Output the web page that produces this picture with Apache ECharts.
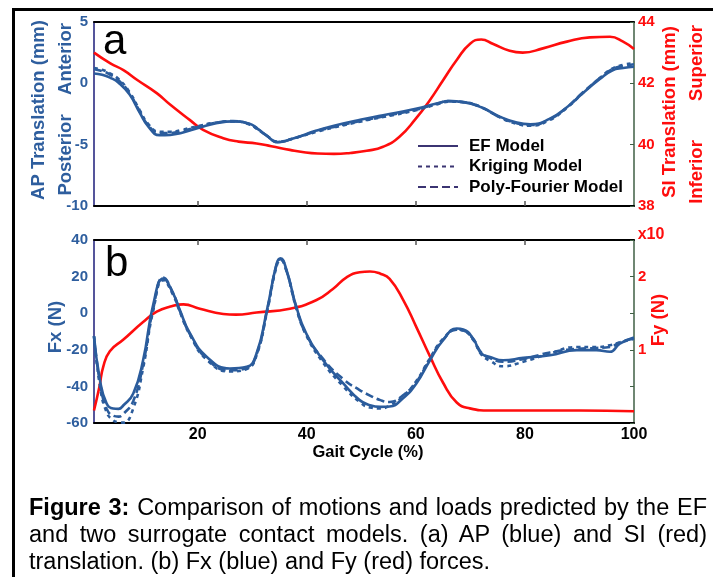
<!DOCTYPE html>
<html>
<head>
<meta charset="utf-8">
<script src="https://cdn.jsdelivr.net/npm/echarts@6/dist/echarts.min.js"></script>
<style>
  html, body { margin: 0; padding: 0; background: #fff; overflow: hidden; }
  #wrap { position: relative; width: 713px; height: 577px; }
  #chart { position: absolute; left: 0; top: 0; width: 713px; height: 577px; }
  #caption { position: absolute; left: 29px; top: 494px; width: 678px;
    font-family: 'Liberation Sans', Arial, Helvetica, sans-serif; font-size: 23.5px;
    line-height: 27px; color: #000; }
  #caption div { white-space: nowrap; }
  #caption .j { text-align: justify; text-align-last: justify; }
</style>
</head>
<body>
<div id="wrap">
  <div id="chart"></div>
  <div id="caption">
    <div class="j"><b>Figure 3:</b> Comparison of motions and loads predicted by the EF</div>
    <div class="j">and two surrogate contact models. (a) AP (blue) and SI (red)</div>
    <div>translation. (b) Fx (blue) and Fy (red) forces.</div>
  </div>
</div>
<script>
// ---------- data ----------
// Panel a: AP translation (mm), blue, left axis
const apX       = [1, 2.5, 4, 5.5, 7.5, 9.4, 11, 13, 15, 17, 20.4, 23.4, 26.5, 29.5, 31, 32.6, 34.7, 37.5, 41.8, 45, 50, 54, 60, 64, 66, 69, 72, 75.5, 78.5, 81, 84.5, 87.7, 90.6, 93.8, 96, 98, 100];
const apEF      = [0.8, 0.7, 0.45, 0.05, -0.9, -2.4, -3.55, -4.22, -4.2, -4.05, -3.6, -3.25, -3.1, -3.3, -3.7, -4.24, -4.8, -4.5, -3.85, -3.45, -2.95, -2.6, -2.07, -1.62, -1.45, -1.55, -1.95, -2.74, -3.2, -3.34, -2.9, -1.95, -0.8, 0.38, 1.05, 1.25, 1.35];
const apKriging = [1.25, 1.1, 0.8, 0.35, -0.7, -2.2, -3.35, -3.95, -3.95, -3.8, -3.45, -3.2, -3.1, -3.35, -3.75, -4.25, -4.75, -4.5, -3.95, -3.6, -3.1, -2.75, -2.2, -1.7, -1.5, -1.55, -1.95, -2.8, -3.3, -3.45, -3.0, -2.0, -0.8, 0.45, 1.2, 1.5, 1.65];
const apPoly    = [1.15, 1.0, 0.7, 0.25, -0.8, -2.3, -3.45, -4.05, -4.05, -3.9, -3.5, -3.2, -3.08, -3.32, -3.72, -4.24, -4.78, -4.5, -3.9, -3.55, -3.05, -2.7, -2.15, -1.65, -1.45, -1.55, -1.95, -2.78, -3.25, -3.4, -2.95, -1.95, -0.75, 0.45, 1.15, 1.4, 1.55];
// Panel a: SI translation (mm), red, right axis
const siX    = [1, 4, 6.4, 9, 12.5, 15, 18.6, 21, 24.7, 27.5, 30.8, 33.5, 36.9, 39.5, 42, 45, 48, 51, 54, 57, 60, 62.6, 65, 67.5, 70, 72, 74.2, 77.2, 79.6, 83.3, 87.7, 91.9, 95.6, 98, 100];
const siVals = [43.0, 42.65, 42.43, 42.1, 41.68, 41.3, 40.8, 40.48, 40.21, 40.1, 40.04, 39.95, 39.83, 39.75, 39.71, 39.7, 39.73, 39.8, 39.93, 40.26, 40.85, 41.46, 42.1, 42.76, 43.3, 43.43, 43.28, 43.06, 43.0, 43.14, 43.36, 43.5, 43.52, 43.36, 43.12];
// Panel b: Fx (N), blue, left axis
const fxX       = [1, 2.1, 3.3, 4.5, 5.5, 6.4, 8.2, 10, 11.9, 13.7, 15.5, 16.7, 18.6, 21.7, 25.9, 29, 30.8, 32.7, 34.5, 35.2, 36.3, 38.1, 39.9, 43, 46.7, 49.7, 51.6, 53.5, 55.2, 57.6, 60.1, 62.6, 65, 67.5, 68.7, 70.5, 72, 73.6, 76, 79.7, 84.6, 89.5, 93.1, 95.6, 97.4, 100];
const fxEF      = [-12.6, -36.6, -49.3, -52.1, -52.3, -50.3, -43.9, -25.7, 5.3, 19, 10.8, 2, -11.1, -23.9, -30.2, -29.3, -22, 1.6, 27.2, 30, 23.5, 3.4, -11, -25.7, -38.4, -47.5, -50.3, -51.2, -51, -46.6, -38.4, -25.7, -14.8, -8.4, -8.9, -13.8, -22, -23.9, -25.7, -24.4, -23, -20.2, -20.2, -21.1, -16.6, -13.3];
const fxKriging = [-12.6, -40, -54, -58.5, -59.5, -59.8, -52, -30, 2, 18, 10, 1, -12, -25.5, -31.8, -30.5, -23, 0.5, 26, 29, 23, 2.5, -12, -27, -40, -48.5, -51.5, -52, -50.5, -45.5, -37, -24.5, -14, -9, -9.5, -14.5, -22.5, -26, -29, -26.5, -22, -18.5, -18.5, -17.5, -16, -14];
const fxPoly    = [-12.6, -38, -52, -56, -56.5, -55, -48, -28, 3, 19.5, 11, 1.5, -11.5, -25, -31.2, -30, -22.5, 1, 27, 29.5, 23, 3, -11.5, -25, -36, -42, -45, -47.5, -48.5, -45, -37.5, -25, -14.5, -9, -9.5, -14, -21.5, -24.5, -26.5, -25, -21.5, -19.5, -19, -18.5, -16, -13.8];
// Panel b: Fy (x10 N), red, right axis
const fyX    = [1, 2, 2.7, 3.9, 6.4, 10, 12.5, 15, 17.4, 20.4, 24.7, 27, 30.8, 36.9, 41.8, 44.8, 47.3, 49.7, 51.6, 53.5, 55.2, 57.7, 60.1, 62.6, 65, 67.5, 69.9, 73.6, 80, 90, 100];
const fyVals = [0.17, 0.5, 0.77, 0.98, 1.14, 1.38, 1.52, 1.59, 1.62, 1.56, 1.49, 1.48, 1.51, 1.56, 1.68, 1.83, 1.99, 2.06, 2.07, 2.04, 1.97, 1.68, 1.31, 0.91, 0.55, 0.28, 0.2, 0.17, 0.17, 0.17, 0.16];
// tick labels
const xTickValues = [20, 40, 60, 80, 100];
const xInnerTicks = [20, 40, 60, 80];
const modelNames = ['EF Model', 'Kriging Model', 'Poly-Fourier Model'];

// ---------- styling ----------
const FONT = "'Liberation Sans', Arial, Helvetica, sans-serif";
const BLUE = '#2b5c9c';
const BLUE_TXT = '#2e5e9e';
const RED = '#ff0d0d';
const LEG = '#3b3472';
const NAVY = '#1c1c7a';
const GREEN = '#3f5f45';
const dashes = ['solid', [4, 4], [8, 4]];

const zip = (xs, ys) => xs.map((x, i) => [x, ys[i]]);

const chart = echarts.init(document.getElementById('chart'));

function blueSeries(xi, yi, xs, arrays) {
  return arrays.map((ys, k) => ({
    name: modelNames[k], type: 'line', xAxisIndex: xi, yAxisIndex: yi,
    data: zip(xs, ys), smooth: 0.5, symbol: 'none',
    lineStyle: { color: BLUE, width: 2.6, type: dashes[k] }, z: 3
  }));
}

const xBase = { type: 'value', min: 1, max: 100, splitLine: { show: false } };
const blackLine = { show: true, onZero: false, lineStyle: { color: '#000', width: 2 } };

const option = {
  animation: false,
  backgroundColor: '#fff',
  textStyle: { fontFamily: FONT },
  grid: [
    { left: 94, top: 22, width: 540, height: 184 },
    { left: 94, top: 240, width: 540, height: 183 }
  ],
  xAxis: [
    Object.assign({}, xBase, { gridIndex: 0, position: 'bottom', axisLine: blackLine,
      axisTick: { show: true, inside: true, length: 5, customValues: xInnerTicks, lineStyle: { color: '#555', width: 1.5 } },
      axisLabel: { show: false } }),
    Object.assign({}, xBase, { gridIndex: 0, position: 'top', axisLine: blackLine,
      axisTick: { show: false }, axisLabel: { show: false } }),
    Object.assign({}, xBase, { gridIndex: 1, position: 'bottom', axisLine: blackLine,
      axisTick: { show: false },
      axisLabel: { customValues: xTickValues, color: '#000', fontSize: 16, fontWeight: 'bold', margin: 4, fontFamily: FONT } }),
    Object.assign({}, xBase, { gridIndex: 1, position: 'top', axisLine: blackLine,
      axisTick: { show: true, inside: true, length: 5, customValues: xInnerTicks, lineStyle: { color: '#555', width: 1.5 } },
      axisLabel: { show: false } })
  ],
  yAxis: [
    { type: 'value', gridIndex: 0, position: 'left', min: -10, max: 5, interval: 5,
      axisLine: { show: true, onZero: false, lineStyle: { color: NAVY, width: 1.5 } }, axisTick: { show: false },
      axisLabel: { color: BLUE_TXT, fontSize: 15, fontWeight: 'bold', margin: 6, fontFamily: FONT }, splitLine: { show: false } },
    { type: 'value', gridIndex: 0, position: 'right', min: 38, max: 44, interval: 2,
      axisLine: { show: true, onZero: false, lineStyle: { color: GREEN, width: 1.5 } },
      axisTick: { show: true, inside: true, length: 4, lineStyle: { color: GREEN } },
      axisLabel: { color: RED, fontSize: 15, fontWeight: 'bold', margin: 4, fontFamily: FONT }, splitLine: { show: false } },
    { type: 'value', gridIndex: 1, position: 'left', min: -60, max: 40, interval: 20,
      axisLine: { show: true, onZero: false, lineStyle: { color: NAVY, width: 1.5 } }, axisTick: { show: false },
      axisLabel: { color: BLUE_TXT, fontSize: 15, fontWeight: 'bold', margin: 6, fontFamily: FONT }, splitLine: { show: false } },
    { type: 'value', gridIndex: 1, position: 'right', min: 0, max: 2.5, interval: 0.5,
      axisLine: { show: true, onZero: false, lineStyle: { color: GREEN, width: 1.5 } },
      axisTick: { show: true, inside: true, length: 4, lineStyle: { color: GREEN } },
      axisLabel: { color: RED, fontSize: 15, fontWeight: 'bold', margin: 4, fontFamily: FONT,
        formatter: v => (Math.abs(v - 1) < 1e-9 || Math.abs(v - 2) < 1e-9) ? String(Math.round(v)) : '' },
      splitLine: { show: false } }
  ],
  legend: {
    orient: 'vertical', left: 417, top: 137.5, padding: 0, itemWidth: 40, itemHeight: 12, itemGap: 3.5,
    selectedMode: false,
    itemStyle: { opacity: 0 },
    data: modelNames.map(n => ({ name: n, lineStyle: { color: LEG, width: 2 } })),
    textStyle: { fontSize: 17, fontWeight: 'bold', color: '#000', fontFamily: FONT, padding: [0, 0, 0, 6] }
  },
  series: [].concat(
    [{ name: 'SI Translation', type: 'line', xAxisIndex: 0, yAxisIndex: 1, data: zip(siX, siVals),
       smooth: 0.5, symbol: 'none', lineStyle: { color: RED, width: 2.6 }, z: 2 }],
    blueSeries(0, 0, apX, [apEF, apKriging, apPoly]),
    [{ name: 'Fy', type: 'line', xAxisIndex: 2, yAxisIndex: 3, data: zip(fyX, fyVals),
       smooth: 0.5, symbol: 'none', lineStyle: { color: RED, width: 2.6 }, z: 2 }],
    blueSeries(2, 2, fxX, [fxEF, fxKriging, fxPoly])
  ),
  graphic: [
    { type: 'rect', silent: true, shape: { x: 13.5, y: 9.5, width: 760, height: 640 },
      style: { fill: 'none', stroke: '#000', lineWidth: 3 } },
    { type: 'text', x: 103, y: 42.5, style: { text: 'a', font: '42px ' + FONT, fill: '#000', verticalAlign: 'middle' } },
    { type: 'text', x: 105, y: 264.5, style: { text: 'b', font: '42px ' + FONT, fill: '#000', verticalAlign: 'middle' } },
    { type: 'text', x: 39, y: 110, rotation: Math.PI / 2, style: { text: 'AP Translation (mm)', font: 'bold 18.5px ' + FONT, fill: BLUE_TXT, align: 'center', verticalAlign: 'middle' } },
    { type: 'text', x: 66, y: 59, rotation: Math.PI / 2, style: { text: 'Anterior', font: 'bold 18.5px ' + FONT, fill: BLUE_TXT, align: 'center', verticalAlign: 'middle' } },
    { type: 'text', x: 66, y: 155, rotation: Math.PI / 2, style: { text: 'Posterior', font: 'bold 18.5px ' + FONT, fill: BLUE_TXT, align: 'center', verticalAlign: 'middle' } },
    { type: 'text', x: 670, y: 112, rotation: Math.PI / 2, style: { text: 'SI Translation (mm)', font: 'bold 18.5px ' + FONT, fill: RED, align: 'center', verticalAlign: 'middle' } },
    { type: 'text', x: 697, y: 63, rotation: Math.PI / 2, style: { text: 'Superior', font: 'bold 18.5px ' + FONT, fill: RED, align: 'center', verticalAlign: 'middle' } },
    { type: 'text', x: 697, y: 172, rotation: Math.PI / 2, style: { text: 'Inferior', font: 'bold 18.5px ' + FONT, fill: RED, align: 'center', verticalAlign: 'middle' } },
    { type: 'text', x: 56, y: 327, rotation: Math.PI / 2, style: { text: 'Fx (N)', font: 'bold 18.5px ' + FONT, fill: BLUE_TXT, align: 'center', verticalAlign: 'middle' } },
    { type: 'text', x: 659, y: 320, rotation: Math.PI / 2, style: { text: 'Fy (N)', font: 'bold 18.5px ' + FONT, fill: RED, align: 'center', verticalAlign: 'middle' } },
    { type: 'text', x: 651, y: 235, style: { text: 'x10', font: 'bold 16px ' + FONT, fill: RED, align: 'center', verticalAlign: 'middle' } },
    { type: 'text', x: 368, y: 452, style: { text: 'Gait Cycle (%)', font: 'bold 16.5px ' + FONT, fill: '#000', align: 'center', verticalAlign: 'middle' } }
  ]
};
chart.setOption(option);
</script>
</body>
</html>
